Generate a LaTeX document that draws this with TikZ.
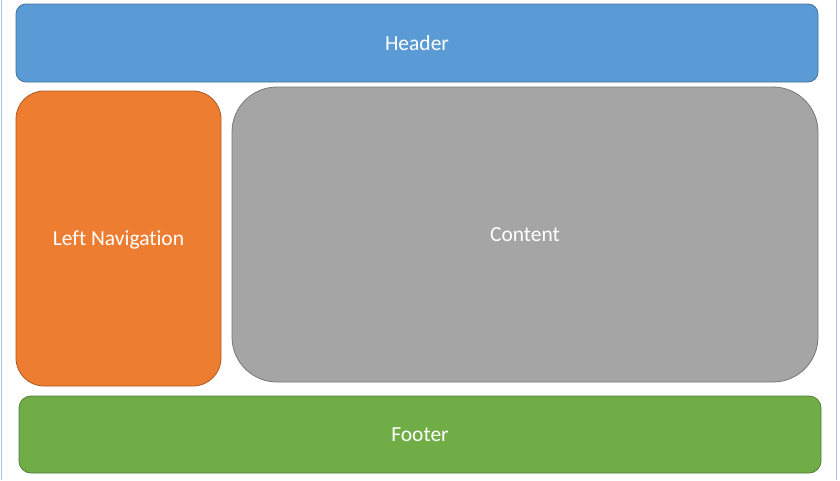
\documentclass[tikz,border=0pt]{standalone}
\usepackage{fontspec}
\setmainfont{Carlito}[Ligatures=NoCommon]
\definecolor{headerblue}{HTML}{5B9BD5}
\definecolor{headerline}{HTML}{41719C}
\definecolor{navorange}{HTML}{ED7D31}
\definecolor{navline}{HTML}{AE5A21}
\definecolor{contentgray}{HTML}{A5A5A5}
\definecolor{contentline}{HTML}{787878}
\definecolor{footergreen}{HTML}{70AD47}
\definecolor{footerline}{HTML}{507E32}
\definecolor{frameblue}{HTML}{A9C4E0}
\tikzset{
  region/.style={rectangle, draw, line width=0.8pt, text=white,
    font=\fontsize{21.5}{25}\selectfont, inner sep=0pt, text depth=0pt}
}
\begin{document}
\begin{tikzpicture}[x=1pt, y=-1pt]
      \useasboundingbox (0,0) rectangle (840,480);
      \fill[white] (0,0) rectangle (840,480);
      \draw[frameblue, line width=1pt] (1.5,0) -- (1.5,480);
      \draw[frameblue, line width=1pt] (836.5,0) -- (836.5,480);
      \node[region, fill=headerblue, draw=headerline, rounded corners=10pt,
        minimum width=802pt, minimum height=78pt] (header) at (417,43) {Header};
      \node[region, fill=navorange, draw=navline, rounded corners=28pt,
        minimum width=205pt, minimum height=295pt] (nav) at (118.5,238.5) {Left Navigation};
      \node[region, fill=contentgray, draw=contentline, rounded corners=45pt,
        minimum width=586pt, minimum height=295pt] (content) at (525,234.5) {Content};
      \node[region, fill=footergreen, draw=footerline, rounded corners=12pt,
        minimum width=802pt, minimum height=77pt] (footer) at (420,434.5) {Footer};
    \end{tikzpicture}
\end{document}
